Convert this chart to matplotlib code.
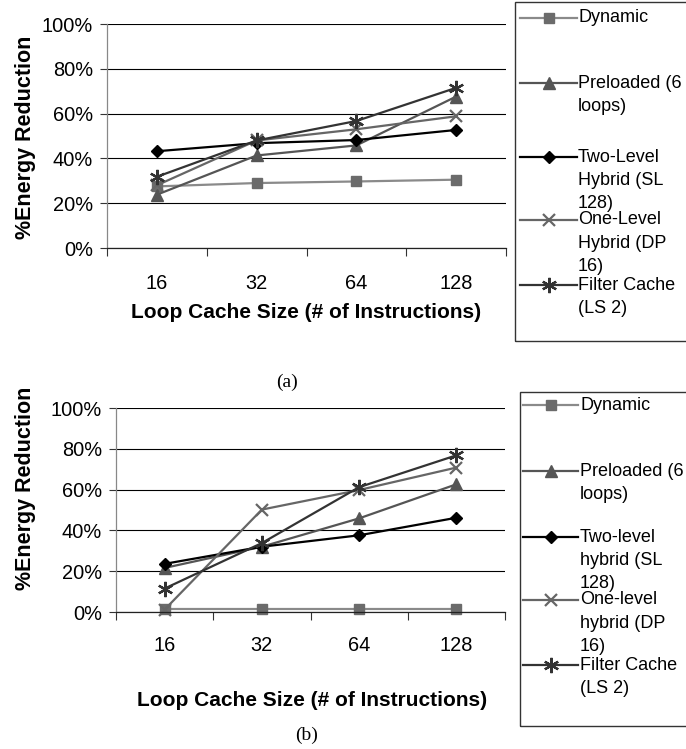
import matplotlib
matplotlib.use("Agg")
import matplotlib.pyplot as plt
from matplotlib.lines import Line2D
from matplotlib.patches import Rectangle
from matplotlib.ticker import FixedLocator, PercentFormatter

plt.rcParams['font.family'] = ['Liberation Sans', 'DejaVu Sans']

# ---------------- data ----------------
categories = ["16", "32", "64", "128"]
series_names = ["Dynamic", "Preloaded", "TwoLevel", "OneLevel", "Filter"]

a_dynamic = [27.5, 29.0, 29.7, 30.5]
a_preloaded = [23.8, 41.3, 45.8, 67.6]
a_two_level = [43.2, 46.8, 48.2, 52.7]
a_one_level = [28.0, 48.0, 53.0, 58.8]
a_filter = [31.8, 48.0, 56.7, 71.5]

b_dynamic = [1.5, 1.5, 1.5, 1.5]
b_preloaded = [21.6, 32.0, 45.9, 62.6]
b_two_level = [23.6, 32.0, 37.6, 46.2]
b_one_level = [1.2, 50.2, 59.8, 70.8]
b_filter = [11.5, 33.8, 61.2, 76.8]

legend_a = ["Dynamic", "Preloaded (6\nloops)", "Two-Level\nHybrid (SL\n128)",
            "One-Level\nHybrid (DP\n16)", "Filter Cache\n(LS 2)"]
legend_b = ["Dynamic", "Preloaded (6\nloops)", "Two-level\nhybrid (SL\n128)",
            "One-level\nhybrid (DP\n16)", "Filter Cache\n(LS 2)"]

y_ticks = [0, 20, 40, 60, 80, 100]
x_label = "Loop Cache Size (# of Instructions)"
y_label = "%Energy Reduction"

# ---------------- styles ----------------
styles = [
    dict(color="#8a8a8a", marker="s", ms=7.5, mfc="#6b6b6b", mec="#6b6b6b", mew=1),
    dict(color="#555555", marker="^", ms=8.5, mfc="#555555", mec="#555555", mew=1),
    dict(color="#000000", marker="D", ms=6.5, mfc="#000000", mec="#000000", mew=1),
    dict(color="#666666", marker="x", ms=9, mfc="none", mec="#666666", mew=1.6),
    dict(color="#333333", marker=(6, 2, 0), ms=11, mfc="none", mec="#333333", mew=1.6),
]

W, H = 686, 749
fig = plt.figure(figsize=(W / 100, H / 100), dpi=100)


def fx(px):
    return px / W


def fy(py):
    return 1 - py / H


def make_axes(left, top, right, bottom, data, label_pad):
    ax = fig.add_axes([fx(left), fy(bottom), fx(right - left), (bottom - top) / H])
    x = list(range(len(categories)))
    for vals, st in zip(data, styles):
        ax.plot(x, vals, lw=1.6, clip_on=False, **st)
    ax.set_xlim(-0.5, len(categories) - 0.5)
    ax.set_ylim(0, 100)
    ax.set_yticks(y_ticks)
    ax.yaxis.set_major_formatter(PercentFormatter(decimals=0))
    ax.set_xticks(x)
    ax.set_xticklabels(categories)
    ax.xaxis.set_minor_locator(FixedLocator([i - 0.5 for i in range(len(categories) + 1)]))
    ax.tick_params(axis='x', which='major', length=0, pad=label_pad, labelsize=14.4)
    ax.tick_params(axis='x', which='minor', length=6, width=0.8, color="#333333")
    ax.tick_params(axis='y', length=5, width=0.8, pad=5, labelsize=14.4, color="#333333")
    ax.grid(axis='y', color="#000000", lw=0.8)
    ax.set_axisbelow(True)
    for s in ("top", "right"):
        ax.spines[s].set_visible(False)
    ax.spines["left"].set_color("#888888")
    ax.spines["bottom"].set_color("#222222")
    ax.spines["left"].set_linewidth(0.9)
    ax.spines["bottom"].set_linewidth(0.9)
    return ax


make_axes(107, 24, 506, 248, [a_dynamic, a_preloaded, a_two_level, a_one_level, a_filter], 19)
make_axes(116, 408, 505, 612, [b_dynamic, b_preloaded, b_two_level, b_one_level, b_filter], 17)

fig.text(fx(306), fy(313), x_label, ha="center", va="center", fontsize=15, fontweight="bold")
fig.text(fx(312), fy(700), x_label, ha="center", va="center", fontsize=15, fontweight="bold")
fig.text(fx(26), fy(137), y_label, ha="center", va="center", rotation=90, fontsize=15.5, fontweight="bold")
fig.text(fx(26), fy(488), y_label, ha="center", va="center", rotation=90, fontsize=15.5, fontweight="bold")

fig.text(fx(287), fy(382), "(a)", ha="center", va="center", fontsize=14,
         family=["Liberation Serif", "DejaVu Serif"])
fig.text(fx(307), fy(735), "(b)", ha="center", va="center", fontsize=14,
         family=["Liberation Serif", "DejaVu Serif"])


def draw_legend(box, line_x, text_x, ys, labels):
    bx0, by0, bx1, by1 = box
    fig.add_artist(Rectangle((fx(bx0), fy(by1)), fx(bx1 - bx0), (by1 - by0) / H,
                             transform=fig.transFigure, fill=False,
                             ec="#333333", lw=1.0))
    for y, lab, st in zip(ys, labels, styles):
        line_only = {k: v for k, v in st.items() if k == "color"}
        fig.add_artist(Line2D([fx(line_x[0]), fx(line_x[1])], [fy(y), fy(y)],
                              transform=fig.transFigure, lw=1.6, **line_only))
        fig.add_artist(Line2D([fx((line_x[0] + line_x[1]) / 2)], [fy(y)],
                              transform=fig.transFigure, ls="none", **st))
        for i, part in enumerate(lab.split("\n")):
            fig.text(fx(text_x), fy(y + i * 23.3), part, ha="left", va="center", fontsize=13)


draw_legend((515, 2, 700, 341), (520, 577), 578, [18, 83, 157, 220, 285], legend_a)
draw_legend((520, 392, 700, 726), (523, 578), 580, [405, 471, 537, 600, 665], legend_b)

fig.savefig("out.png", dpi=100)
